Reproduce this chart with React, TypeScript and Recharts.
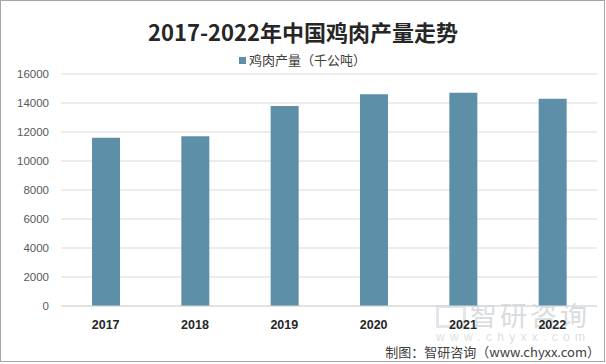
import React from "react";
import { BarChart, Bar, XAxis, YAxis, CartesianGrid } from "recharts";

const years = ["2017", "2018", "2019", "2020", "2021", "2022"];
const output = [11600, 11700, 13800, 14600, 14700, 14300];
const yTicks = [0, 2000, 4000, 6000, 8000, 10000, 12000, 14000, 16000];

const seriesName = "鸡肉产量（千公吨）";
const title = "2017-2022年中国鸡肉产量走势";
const source = "制图：智研咨询（www.chyxx.com）";

const data = years.map((y, i) => ({ year: y, value: output[i] }));

const BAR = "#5D90A8";
const CJK = '"Noto Sans CJK SC", "Liberation Sans", sans-serif';

export default function App() {
  return (
    <div
      style={{
        position: "absolute",
        left: 0,
        top: 0,
        width: 606,
        height: 364,
        background: "#fff",
        fontFamily: CJK,
      }}
    >
      {/* frame */}
      <div
        style={{
          position: "absolute",
          left: 0,
          top: 0,
          width: 603,
          height: 360,
          border: "1px solid #A6A6A6",
        }}
      />

      {/* watermark behind the chart */}
      <div
        style={{
          position: "absolute",
          left: 436,
          top: 305,
          width: 30,
          height: 23,
          border: "3px solid #E3E7EC",
          boxSizing: "border-box",
        }}
      />
      <div
        style={{
          position: "absolute",
          left: 470,
          top: 298,
          fontSize: 27,
          lineHeight: "34px",
          color: "#D9DCDF",
          letterSpacing: 3,
          whiteSpace: "nowrap",
        }}
      >
        智研咨询
      </div>
      <div
        style={{
          position: "absolute",
          left: 436,
          top: 329,
          fontSize: 12,
          lineHeight: "16px",
          color: "#DCDFE2",
          letterSpacing: 5.3,
          whiteSpace: "nowrap",
          fontFamily: '"Liberation Sans", sans-serif',
        }}
      >
        www.chyxx.com
      </div>

      <div style={{ position: "absolute", left: 0, top: 0 }}>
        <BarChart
          width={606}
          height={364}
          data={data}
          margin={{ top: 74, right: 9, left: 0, bottom: 28 }}
        >
          <CartesianGrid vertical={false} stroke="#D9D9D9" />
          <YAxis
            width={61}
            domain={[0, 16000]}
            ticks={yTicks}
            axisLine={false}
            tickLine={false}
            tickMargin={6}
            tick={{ fontSize: 11.5, fill: "#595959", fontFamily: '"Liberation Sans", sans-serif' }}
          />
          <XAxis
            dataKey="year"
            axisLine={{ stroke: "#D9D9D9" }}
            tickLine={false}
            tickMargin={8}
            tick={{
              fontSize: 12.5,
              fill: "#262626",
              fontWeight: "bold",
              fontFamily: '"Liberation Sans", sans-serif',
            }}
          />
          <Bar dataKey="value" fill={BAR} barSize={28} isAnimationActive={false} />
        </BarChart>
      </div>

      {/* title */}
      <div
        style={{
          position: "absolute",
          left: 0,
          width: 606,
          top: 16,
          textAlign: "center",
          fontSize: 22,
          lineHeight: "30px",
          fontWeight: "bold",
          color: "#262626",
        }}
      >
        {title}
      </div>

      {/* legend */}
      <div
        style={{
          position: "absolute",
          left: 239,
          top: 51,
          display: "flex",
          alignItems: "center",
          fontSize: 13,
          lineHeight: "18px",
          color: "#404040",
        }}
      >
        <span
          style={{
            display: "inline-block",
            width: 7,
            height: 7,
            background: BAR,
            marginRight: 3,
          }}
        />
        {seriesName}
      </div>

      {/* source */}
      <div
        style={{
          position: "absolute",
          right: 6,
          top: 343,
          fontSize: 13,
          lineHeight: "18px",
          color: "#404040",
          whiteSpace: "nowrap",
        }}
      >
        {source}
      </div>
    </div>
  );
}
